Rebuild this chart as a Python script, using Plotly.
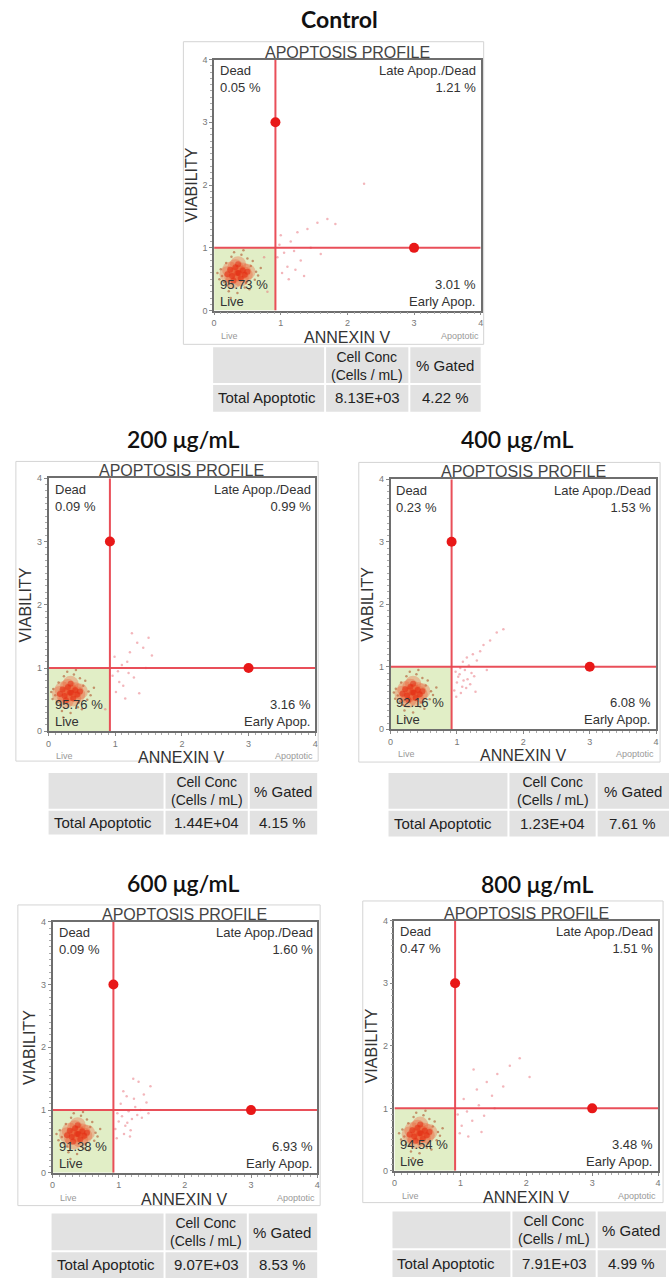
import plotly.graph_objects as go

W, H = 672, 1287

# ---------------- data ----------------
titles = ["Control", "200 μg/mL", "400 μg/mL", "600 μg/mL", "800 μg/mL"]
dead_pct = ["0.05 %", "0.09 %", "0.23 %", "0.09 %", "0.47 %"]
late_pct = ["1.21 %", "0.99 %", "1.53 %", "1.60 %", "1.51 %"]
early_pct = ["3.01 %", "3.16 %", "6.08 %", "6.93 %", "3.48 %"]
live_pct = ["95.73 %", "95.76 %", "92.16 %", "91.38 %", "94.54 %"]
cell_conc = ["8.13E+03", "1.44E+04", "1.23E+04", "9.07E+03", "7.91E+03"]
pct_gated = ["4.22 %", "4.15 %", "7.61 %", "8.53 %", "4.99 %"]
axis_ticks = [0, 1, 2, 3, 4]
gate_x = 0.92
gate_y = 1.0
handle_x = [0.92, 3.0]
handle_y = [3.0, 1.0]

# event clouds
control_core_x = [0.35, 0.27, 0.43, 0.32, 0.40, 0.24, 0.46, 0.36, 0.29, 0.37, 0.20, 0.50]
control_core_y = [0.60, 0.55, 0.64, 0.69, 0.51, 0.65, 0.57, 0.74, 0.48, 0.60, 0.58, 0.62]
control_halo_x = [0.12, 0.18, 0.55, 0.61, 0.50, 0.20, 0.26, 0.46, 0.63, 0.10, 0.15, 0.58, 0.48, 0.22, 0.41, 0.30, 0.66, 0.08, 0.53, 0.35, 0.70, 0.05, 0.44, 0.25]
control_halo_y = [0.55, 0.76, 0.71, 0.49, 0.83, 0.40, 0.86, 0.37, 0.62, 0.66, 0.45, 0.79, 0.44, 0.31, 0.89, 0.93, 0.56, 0.50, 0.34, 0.28, 0.68, 0.60, 0.96, 0.20]
control_sparse_x = [0.95, 1.05, 1.10, 1.20, 1.02, 1.15, 1.30, 1.25, 1.40, 1.55, 1.70, 1.35, 1.00, 1.12, 0.98, 1.45, 1.82, 2.25, 1.60, 1.22, 0.80, 0.75]
control_sparse_y = [0.85, 0.92, 0.70, 0.95, 0.60, 1.10, 0.80, 1.25, 1.30, 1.40, 1.46, 0.55, 1.20, 0.50, 1.05, 1.00, 1.38, 2.02, 0.90, 0.65, 0.30, 0.85]

c200_core_x = [0.32, 0.24, 0.40, 0.29, 0.37, 0.21, 0.43, 0.33, 0.26, 0.34, 0.17, 0.47]
c200_core_y = [0.61, 0.56, 0.65, 0.70, 0.52, 0.66, 0.58, 0.75, 0.49, 0.61, 0.59, 0.63]
c200_halo_x = [0.10, 0.15, 0.52, 0.58, 0.47, 0.18, 0.23, 0.44, 0.60, 0.07, 0.13, 0.55, 0.45, 0.20, 0.38, 0.28, 0.63, 0.06, 0.50, 0.33, 0.68, 0.04, 0.41, 0.22]
c200_halo_y = [0.57, 0.77, 0.72, 0.50, 0.84, 0.41, 0.87, 0.38, 0.63, 0.67, 0.46, 0.80, 0.45, 0.32, 0.90, 0.94, 0.57, 0.51, 0.35, 0.29, 0.69, 0.62, 0.97, 0.22]
c200_sparse_x = [0.96, 1.04, 1.12, 1.18, 1.01, 1.22, 1.28, 1.33, 1.42, 1.50, 1.10, 1.36, 0.99, 1.15, 1.06, 1.46, 1.25, 0.85, 1.55, 1.20]
c200_sparse_y = [0.88, 0.95, 0.72, 1.10, 0.62, 1.25, 0.85, 1.40, 1.32, 1.48, 1.05, 0.60, 1.18, 0.52, 0.78, 1.00, 1.55, 0.35, 1.20, 0.92]

c400_core_x = [0.33, 0.25, 0.41, 0.30, 0.38, 0.22, 0.44, 0.34, 0.27, 0.35, 0.18, 0.48]
c400_core_y = [0.59, 0.54, 0.63, 0.68, 0.50, 0.64, 0.56, 0.73, 0.47, 0.59, 0.57, 0.61]
c400_halo_x = [0.11, 0.16, 0.53, 0.59, 0.48, 0.19, 0.24, 0.45, 0.61, 0.08, 0.14, 0.56, 0.46, 0.21, 0.39, 0.29, 0.64, 0.07, 0.51, 0.34, 0.69, 0.05, 0.42, 0.23]
c400_halo_y = [0.54, 0.75, 0.70, 0.48, 0.82, 0.39, 0.85, 0.36, 0.61, 0.65, 0.44, 0.78, 0.43, 0.30, 0.88, 0.92, 0.55, 0.49, 0.33, 0.27, 0.67, 0.59, 0.95, 0.19]
c400_sparse_x = [0.96, 1.00, 1.04, 1.08, 1.12, 1.16, 1.20, 0.98, 1.06, 1.14, 1.22, 1.02, 1.10, 1.18, 1.26, 1.30, 1.05, 1.24, 1.35, 1.15, 1.40, 1.28, 1.50, 1.60, 1.45, 1.70, 0.99, 1.09]
c400_sparse_y = [0.62, 0.75, 0.88, 0.68, 0.95, 0.80, 0.72, 0.92, 0.58, 0.66, 0.90, 0.84, 0.78, 1.02, 0.85, 1.10, 0.98, 1.20, 1.25, 1.15, 1.35, 0.60, 1.42, 1.55, 0.95, 1.60, 0.52, 1.08]

c600_core_x = [0.37, 0.29, 0.45, 0.34, 0.42, 0.26, 0.48, 0.38, 0.31, 0.39, 0.22, 0.52]
c600_core_y = [0.62, 0.57, 0.66, 0.71, 0.53, 0.67, 0.59, 0.76, 0.50, 0.62, 0.60, 0.64]
c600_halo_x = [0.14, 0.20, 0.57, 0.63, 0.52, 0.22, 0.28, 0.48, 0.65, 0.11, 0.17, 0.60, 0.50, 0.24, 0.43, 0.32, 0.68, 0.09, 0.55, 0.37, 0.72, 0.06, 0.46, 0.27]
c600_halo_y = [0.57, 0.78, 0.73, 0.51, 0.85, 0.42, 0.88, 0.39, 0.64, 0.68, 0.47, 0.81, 0.46, 0.33, 0.91, 0.95, 0.58, 0.52, 0.36, 0.30, 0.70, 0.62, 0.97, 0.22]
c600_sparse_x = [0.95, 1.00, 1.05, 1.10, 1.15, 1.20, 1.25, 0.98, 1.08, 1.18, 1.28, 1.03, 1.13, 1.23, 1.33, 1.38, 1.07, 1.30, 1.42, 1.17, 1.48, 1.35, 1.45, 1.22, 0.97, 1.12]
c600_sparse_y = [0.70, 0.82, 0.90, 0.75, 0.98, 0.86, 1.05, 0.95, 0.62, 0.68, 0.92, 1.10, 0.80, 1.18, 1.00, 1.25, 1.30, 1.45, 1.12, 0.58, 1.38, 0.88, 0.95, 1.50, 0.55, 1.22]

c800_core_x = [0.38, 0.30, 0.46, 0.35, 0.43, 0.27, 0.49, 0.39, 0.32, 0.40, 0.23, 0.53]
c800_core_y = [0.60, 0.55, 0.64, 0.69, 0.51, 0.65, 0.57, 0.74, 0.48, 0.60, 0.58, 0.62]
c800_halo_x = [0.15, 0.21, 0.58, 0.64, 0.53, 0.23, 0.29, 0.49, 0.66, 0.12, 0.18, 0.61, 0.51, 0.25, 0.44, 0.33, 0.69, 0.10, 0.56, 0.38, 0.73, 0.07, 0.47, 0.28]
c800_halo_y = [0.55, 0.76, 0.71, 0.49, 0.83, 0.40, 0.86, 0.37, 0.62, 0.66, 0.45, 0.79, 0.44, 0.31, 0.89, 0.93, 0.56, 0.50, 0.34, 0.28, 0.68, 0.60, 0.96, 0.20]
c800_sparse_x = [0.96, 1.02, 1.10, 1.18, 1.05, 1.25, 1.32, 1.40, 1.48, 1.56, 1.65, 1.75, 1.90, 2.05, 1.12, 1.28, 0.99, 1.36, 1.52, 1.20]
c800_sparse_y = [0.90, 0.72, 0.95, 0.80, 1.15, 1.30, 0.62, 1.42, 1.20, 1.55, 1.35, 1.68, 1.80, 1.50, 0.55, 1.05, 0.60, 0.88, 1.00, 1.62]

panel_core_x = [control_core_x, c200_core_x, c400_core_x, c600_core_x, c800_core_x]
panel_core_y = [control_core_y, c200_core_y, c400_core_y, c600_core_y, c800_core_y]
panel_halo_x = [control_halo_x, c200_halo_x, c400_halo_x, c600_halo_x, c800_halo_x]
panel_halo_y = [control_halo_y, c200_halo_y, c400_halo_y, c600_halo_y, c800_halo_y]
panel_sparse_x = [control_sparse_x, c200_sparse_x, c400_sparse_x, c600_sparse_x, c800_sparse_x]
panel_sparse_y = [control_sparse_y, c200_sparse_y, c400_sparse_y, c600_sparse_y, c800_sparse_y]

# ---------------- layout geometry (pixels) ----------------
plot_px = [(213, 482, 55, 308), (46, 315, 477, 732), (391, 659, 478, 730),
           (50, 317, 924, 1177), (395, 661, 923, 1175)]
box_px = [(182, 485, 37, 342), (13, 318, 460, 762), (359, 663, 461, 763),
          (15, 320, 907, 1210), (363, 666, 903, 1207)]
# x0, x1, col1, col2, top, header bottom, row bottom
table_px = [(212, 482, 325, 410, 345, 382, 410), (46, 317, 163, 248, 774, 811, 836),
            (389, 672, 510, 599, 774, 811, 838), (49, 317, 163, 247, 1218, 1256, 1283),
            (393, 669, 513, 599, 1216, 1254, 1282)]
title_px = [(340, 14), (182, 437), (519, 437), (182, 885), (539, 886)]

def X(px):
    return px / W

def Y(py):
    return 1 - py / H

FONT = "Liberation Sans, Arial, sans-serif"
RED = "rgba(232,70,80,0.95)"

fig = go.Figure()
shapes = []
annotations = []
layout_axes = {}

for i in range(5):
    n = "" if i == 0 else str(i + 1)
    xa, ya = "x" + n, "y" + n
    l, r, t, b = plot_px[i]
    layout_axes["xaxis" + n] = dict(
        domain=[X(l), X(r)], range=[0, 4], anchor=ya, showgrid=False, zeroline=False,
        showline=True, linecolor="#6e6e6e", linewidth=1.5, mirror=True,
        ticks="outside", ticklen=3, tickcolor="#888", tickvals=axis_ticks,
        tickfont=dict(size=9, color="#777", family=FONT), ticklabelstandoff=0,
        minor=dict(ticks="outside", ticklen=2, dtick=0.1, tickcolor="#aaa"),
        fixedrange=True)
    layout_axes["yaxis" + n] = dict(
        domain=[Y(b), Y(t)], range=[0, 4], anchor=xa, showgrid=False, zeroline=False,
        showline=True, linecolor="#6e6e6e", linewidth=1.5, mirror=True,
        ticks="outside", ticklen=3, tickcolor="#888", tickvals=axis_ticks,
        tickfont=dict(size=9, color="#777", family=FONT), ticklabelstandoff=0,
        minor=dict(ticks="outside", ticklen=2, dtick=0.1, tickcolor="#aaa"),
        fixedrange=True)

    # live gate region
    shapes.append(dict(type="rect", xref=xa, yref=ya, x0=0, x1=gate_x, y0=0, y1=gate_y,
                       fillcolor="#e1eec6", line=dict(width=0), layer="below"))

    # events
    fig.add_trace(go.Scatter(x=panel_sparse_x[i], y=panel_sparse_y[i], mode="markers",
                             xaxis=xa, yaxis=ya, hoverinfo="skip", showlegend=False,
                             marker=dict(size=2.5, color="rgba(232,110,120,0.5)")))
    fig.add_trace(go.Scatter(x=panel_halo_x[i], y=panel_halo_y[i], mode="markers",
                             xaxis=xa, yaxis=ya, hoverinfo="skip", showlegend=False,
                             marker=dict(size=2.5, color="rgba(175,85,45,0.6)")))
    fig.add_trace(go.Scatter(x=panel_core_x[i], y=panel_core_y[i], mode="markers",
                             xaxis=xa, yaxis=ya, hoverinfo="skip", showlegend=False,
                             marker=dict(size=16, color="rgba(238,88,48,0.33)")))
    fig.add_trace(go.Scatter(x=panel_core_x[i], y=panel_core_y[i], mode="markers",
                             xaxis=xa, yaxis=ya, hoverinfo="skip", showlegend=False,
                             marker=dict(size=6, color="rgba(228,45,20,0.55)")))

    # gate lines + handles
    fig.add_trace(go.Scatter(x=[gate_x, gate_x], y=[0, 4], mode="lines", xaxis=xa, yaxis=ya,
                             hoverinfo="skip", showlegend=False, line=dict(color=RED, width=2)))
    fig.add_trace(go.Scatter(x=[0, 4], y=[gate_y, gate_y], mode="lines", xaxis=xa, yaxis=ya,
                             hoverinfo="skip", showlegend=False, line=dict(color=RED, width=2)))
    fig.add_trace(go.Scatter(x=handle_x, y=handle_y, mode="markers", xaxis=xa, yaxis=ya,
                             hoverinfo="skip", showlegend=False, cliponaxis=False,
                             marker=dict(size=10, color="#e81818")))

    xd, yd = xa + " domain", ya + " domain"
    qfont = dict(size=13, color="#333", family=FONT)
    annotations += [
        dict(text="APOPTOSIS PROFILE", xref=xd, yref=yd, x=0.5, y=1, xanchor="center",
             yanchor="bottom", yshift=-3, showarrow=False,
             font=dict(size=16, color="#444", family=FONT)),
        dict(text="Dead<br>" + dead_pct[i], xref=xd, yref=yd, x=0.015, y=0.995,
             xanchor="left", yanchor="top", align="left", showarrow=False, font=qfont),
        dict(text="Late Apop./Dead<br>" + late_pct[i], xref=xd, yref=yd, x=0.99, y=0.995,
             xanchor="right", yanchor="top", align="right", showarrow=False, font=qfont),
        dict(text=live_pct[i] + "<br>Live", xref=xd, yref=yd, x=0.015, y=0.0,
             xanchor="left", yanchor="bottom", align="left", showarrow=False, font=qfont),
        dict(text=early_pct[i] + "<br>Early Apop.", xref=xd, yref=yd, x=0.99, y=0.0,
             xanchor="right", yanchor="bottom", align="right", showarrow=False, font=qfont),
        dict(text="ANNEXIN V", xref=xd, yref=yd, x=0.5, y=0, xanchor="center",
             yanchor="top", yshift=-16, showarrow=False,
             font=dict(size=16, color="#333", family=FONT)),
        dict(text="Live", xref=xd, yref=yd, x=0.02, y=0, xanchor="left",
             yanchor="top", yshift=-18, showarrow=False,
             font=dict(size=9, color="#999", family=FONT)),
        dict(text="Apoptotic", xref=xd, yref=yd, x=1.0, y=0, xanchor="right",
             yanchor="top", yshift=-18, showarrow=False,
             font=dict(size=9, color="#999", family=FONT)),
        dict(text="VIABILITY", xref=xd, yref=yd, x=0, y=0.5, xanchor="center",
             yanchor="middle", xshift=-23, textangle=-90, showarrow=False,
             font=dict(size=16, color="#333", family=FONT)),
    ]

    # outer panel box
    bl, br, bt, bb = box_px[i]
    shapes.append(dict(type="rect", xref="paper", yref="paper", x0=X(bl), x1=X(br),
                       y0=Y(bb), y1=Y(bt), line=dict(color="#d4d4d4", width=1),
                       fillcolor="rgba(0,0,0,0)", layer="below"))

    # title
    tx, ty = title_px[i]
    annotations.append(dict(text=titles[i], xref="paper", yref="paper", x=X(tx), y=Y(ty),
                            xanchor="center", yanchor="middle", showarrow=False,
                            font=dict(size=23, color="#111", family="Lato, sans-serif",
                                      weight="bold" if i == 0 else 600)))

    # table
    x0, x1, c1, c2, tt, hb, rb = table_px[i]
    cols = [(x0, c1 - 1), (c1 + 1, c2 - 1), (c2 + 1, x1)]
    for (a, bcol) in cols:
        shapes.append(dict(type="rect", xref="paper", yref="paper", x0=X(a), x1=X(bcol),
                           y0=Y(hb - 1), y1=Y(tt), line=dict(width=0), fillcolor="#e2e2e2"))
        shapes.append(dict(type="rect", xref="paper", yref="paper", x0=X(a), x1=X(bcol),
                           y0=Y(rb), y1=Y(hb + 1), line=dict(width=0), fillcolor="#e2e2e2"))
    tfont = dict(size=15, color="#222", family=FONT)
    hmid = (tt + hb) / 2
    rmid = (hb + rb) / 2
    annotations += [
        dict(text="Cell Conc<br>(Cells / mL)", xref="paper", yref="paper",
             x=X((c1 + c2) / 2), y=Y(hmid), xanchor="center", yanchor="middle",
             showarrow=False, font=dict(size=14, color="#222", family=FONT)),
        dict(text="% Gated", xref="paper", yref="paper", x=X((c2 + x1) / 2), y=Y(hmid),
             xanchor="center", yanchor="middle", showarrow=False, font=tfont),
        dict(text="Total Apoptotic", xref="paper", yref="paper", x=X(x0 + 3), y=Y(rmid),
             xanchor="left", yanchor="middle", showarrow=False, font=tfont),
        dict(text=cell_conc[i], xref="paper", yref="paper", x=X((c1 + c2) / 2), y=Y(rmid),
             xanchor="center", yanchor="middle", showarrow=False, font=tfont),
        dict(text=pct_gated[i], xref="paper", yref="paper", x=X((c2 + x1) / 2), y=Y(rmid),
             xanchor="center", yanchor="middle", showarrow=False, font=tfont),
    ]

fig.update_layout(
    width=W, height=H, margin=dict(l=0, r=0, t=0, b=0),
    paper_bgcolor="white", plot_bgcolor="white", showlegend=False,
    shapes=shapes, annotations=annotations, **layout_axes)

fig.write_html("out.html", config={"displayModeBar": False},
               post_script="document.body.style.margin='0px';"
                           "document.body.style.overflow='hidden';")
